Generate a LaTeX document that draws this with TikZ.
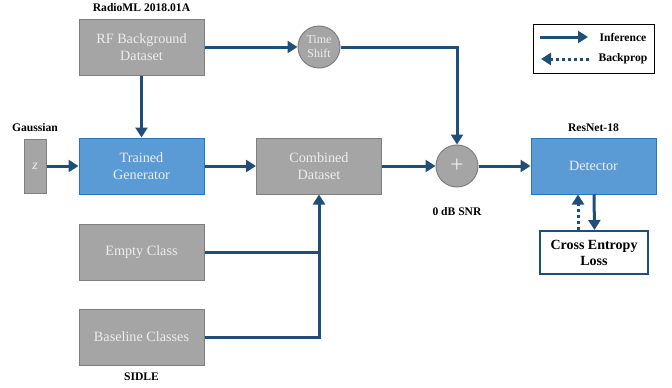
\documentclass[tikz,border=0pt]{standalone}
\usepackage{fontspec}
\setmainfont{Liberation Serif}
\usetikzlibrary{arrows.meta}
\definecolor{arr}{HTML}{1F4E79}
\definecolor{gfill}{HTML}{A5A5A5}
\definecolor{gdraw}{HTML}{7F7F7F}
\definecolor{bfill}{HTML}{5B9BD5}
\definecolor{bdraw}{HTML}{2E75B6}
\definecolor{txt}{HTML}{EDEDED}
\begin{document}
\begin{tikzpicture}[x=1pt,y=-1pt,
  graybox/.style={draw=gdraw,fill=gfill,line width=1pt,minimum width=125pt,minimum height=56pt,text=txt,font=\fontsize{14.2}{16.5}\selectfont,align=center,inner sep=0pt},
  bluebox/.style={graybox,draw=bdraw,fill=bfill},
  circ/.style={circle,draw=gdraw,fill=gfill,line width=1pt,minimum size=42pt,text=txt,align=center,inner sep=0pt},
  lbl/.style={font=\fontsize{11.6}{13}\selectfont\bfseries},
  flow/.style={draw=arr,line width=3pt,-{Triangle[length=10pt,width=12pt]}},
  line/.style={draw=arr,line width=3pt},
  back/.style={draw=arr,line width=3pt,dash pattern=on 3pt off 3pt,-{Triangle[length=10pt,width=12pt]}}]
\useasboundingbox (0,0) rectangle (672,388);
\node[graybox] (rf) at (141.5,47) {RF Background\\Dataset};
\node[lbl] (radioml) at (141.5,8) {RadioML 2018.01A};
\node[circ,font=\fontsize{12}{14}\selectfont] (ts) at (319,47) {Time\\Shift};
\node[graybox,minimum width=22pt,minimum height=54pt,font=\itshape\fontsize{14}{15}\selectfont] (z) at (35,166) {z};
\node[lbl] (gauss) at (35,128) {Gaussian};
\node[bluebox] (gen) at (141.5,166) {Trained\\Generator};
\node[graybox] (comb) at (319,166) {Combined\\Dataset};
\node[circ,font=\fontsize{24}{24}\selectfont] (plus) at (457,166) {+};
\node[lbl] (snr) at (457,212) {0 dB SNR};
\node[bluebox] (det) at (593.5,166) {Detector};
\node[lbl] (resnet) at (593.5,128) {ResNet-18};
\node[draw=arr,line width=2pt,fill=white,minimum width=108pt,minimum height=43pt,align=center,inner sep=0pt,font=\fontsize{14}{16}\selectfont\bfseries] (ce) at (594,252.5) {Cross Entropy\\Loss};
\node[graybox] (empty) at (141.5,252) {Empty Class};
\node[graybox] (base) at (141.5,337) {Baseline Classes};
\node[lbl] (sidle) at (141.5,377) {SIDLE};
% legend
\node[draw=black,line width=1pt,minimum width=121pt,minimum height=49pt,inner sep=0pt] (leg) at (593.5,48.5) {};
\coordinate (l1a) at (540,37); \coordinate (l1b) at (588,37);
\coordinate (l2a) at (589,59); \coordinate (l2b) at (541,59);
\draw[flow] (l1a) -- (l1b);
\draw[back] (l2a) -- (l2b);
\node[lbl,anchor=west] (linf) at (596,37) {Inference};
\node[lbl,anchor=west] (lback) at (595,59) {Backprop};
% connectors
\draw[flow] (rf.east) -- (ts.west);
\draw[flow] (rf.south) -- (gen.north);
\draw[flow] (ts.east) -| (plus.north);
\draw[flow] (z.east) -- (gen.west);
\draw[flow] (gen.east) -- (comb.west);
\draw[flow] (comb.east) -- (plus.west);
\draw[flow] (plus.east) -- (det.west);
\draw[line] (empty.east) -- (comb.south |- empty.east);
\draw[flow] (base.east) -| (comb.south);
\draw[flow] ([xshift=0.5pt]det.south) -- ([xshift=0.5pt]ce.north);
\draw[back] ([xshift=-16pt]ce.north) -- ([xshift=-16pt]ce.north |- det.south);
\end{tikzpicture}
\end{document}
